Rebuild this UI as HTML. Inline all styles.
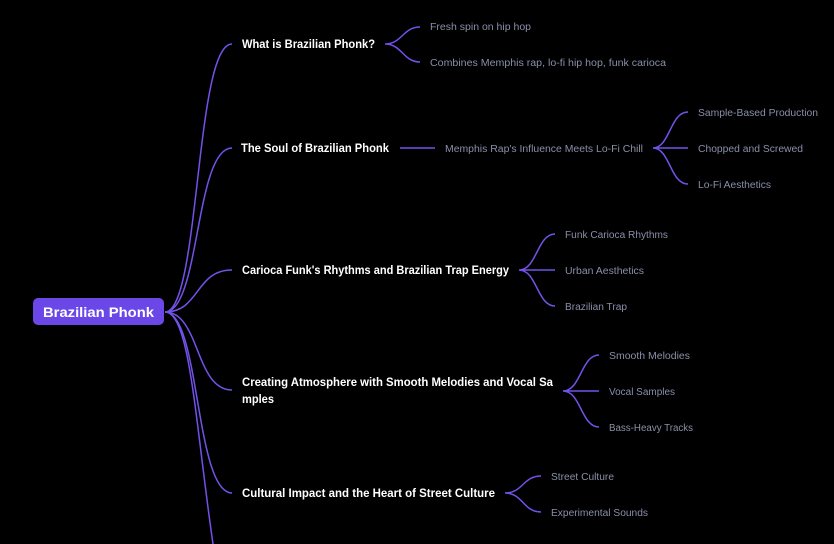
<!DOCTYPE html>
<html><head><meta charset="utf-8"><style>
html,body{margin:0;padding:0;background:#000;width:834px;height:544px;overflow:hidden}
svg{display:block}
.c{font-family:"Liberation Sans",sans-serif;font-weight:bold;font-size:12px;fill:#fff}
.l{font-family:"Liberation Sans",sans-serif;font-size:10px;fill:#8890a8}
path,line{stroke:#7352ea;stroke-width:1.5;fill:none}
</style></head><body>
<svg width="834" height="544" viewBox="0 0 834 544">
<path d="M165,312 C200,312 195,44 232,44"/>
<path d="M165,312 C200,312 195,148 232,148"/>
<path d="M165,312 C200,312 195,270 232,270"/>
<path d="M165,312 C200,312 195,390 232,390"/>
<path d="M165,312 C200,312 195,493 232,493"/>
<path d="M165,312 C190,312 195,420 213,544"/>
<rect x="33" y="298" width="131" height="27" rx="5" fill="#6c47e8"/>
<text x="43" y="317" textLength="111" lengthAdjust="spacingAndGlyphs" font-family="Liberation Sans,sans-serif" font-weight="bold" font-size="14" fill="#fff">Brazilian Phonk</text>

<text class="c" x="242" y="48" textLength="133" lengthAdjust="spacingAndGlyphs">What is Brazilian Phonk?</text>
<path d="M385,44 C402,44 403,27 420,27 M385,44 C402,44 403,62 420,62"/>
<text class="l" x="430" y="30" textLength="101" lengthAdjust="spacingAndGlyphs">Fresh spin on hip hop</text>
<text class="l" x="430" y="66" textLength="236" lengthAdjust="spacingAndGlyphs">Combines Memphis rap, lo-fi hip hop, funk carioca</text>

<text class="c" x="241" y="152" textLength="148" lengthAdjust="spacingAndGlyphs">The Soul of Brazilian Phonk</text>
<line x1="400" y1="148" x2="435" y2="148"/>
<text class="l" x="445" y="152" textLength="198" lengthAdjust="spacingAndGlyphs">Memphis Rap's Influence Meets Lo-Fi Chill</text>
<path d="M653,148 C670,148 670,112 688,112 M653,148 L688,148 M653,148 C670,148 670,184 688,184"/>
<text class="l" x="698" y="116" textLength="120" lengthAdjust="spacingAndGlyphs">Sample-Based Production</text>
<text class="l" x="698" y="152" textLength="105" lengthAdjust="spacingAndGlyphs">Chopped and Screwed</text>
<text class="l" x="698" y="188" textLength="73" lengthAdjust="spacingAndGlyphs">Lo-Fi Aesthetics</text>

<text class="c" x="242" y="274" textLength="267" lengthAdjust="spacingAndGlyphs">Carioca Funk's Rhythms and Brazilian Trap Energy</text>
<path d="M519,270 C537,270 537,234 555,234 M519,270 L555,270 M519,270 C537,270 537,306 555,306"/>
<text class="l" x="565" y="238" textLength="103" lengthAdjust="spacingAndGlyphs">Funk Carioca Rhythms</text>
<text class="l" x="565" y="274" textLength="79" lengthAdjust="spacingAndGlyphs">Urban Aesthetics</text>
<text class="l" x="565" y="310" textLength="62" lengthAdjust="spacingAndGlyphs">Brazilian Trap</text>

<text class="c" x="242" y="386" textLength="311" lengthAdjust="spacingAndGlyphs">Creating Atmosphere with Smooth Melodies and Vocal Sa</text>
<text class="c" x="242" y="403" textLength="32" lengthAdjust="spacingAndGlyphs">mples</text>
<path d="M563,391 C581,391 581,355 599,355 M563,391 L599,391 M563,391 C581,391 581,427 599,427"/>
<text class="l" x="609" y="359" textLength="81" lengthAdjust="spacingAndGlyphs">Smooth Melodies</text>
<text class="l" x="609" y="395" textLength="66" lengthAdjust="spacingAndGlyphs">Vocal Samples</text>
<text class="l" x="609" y="431" textLength="84" lengthAdjust="spacingAndGlyphs">Bass-Heavy Tracks</text>

<text class="c" x="242" y="497" textLength="253" lengthAdjust="spacingAndGlyphs">Cultural Impact and the Heart of Street Culture</text>
<path d="M505,493 C523,493 523,476 541,476 M505,493 C523,493 523,512 541,512"/>
<text class="l" x="551" y="480" textLength="63" lengthAdjust="spacingAndGlyphs">Street Culture</text>
<text class="l" x="551" y="516" textLength="97" lengthAdjust="spacingAndGlyphs">Experimental Sounds</text>
</svg>
</body></html>
